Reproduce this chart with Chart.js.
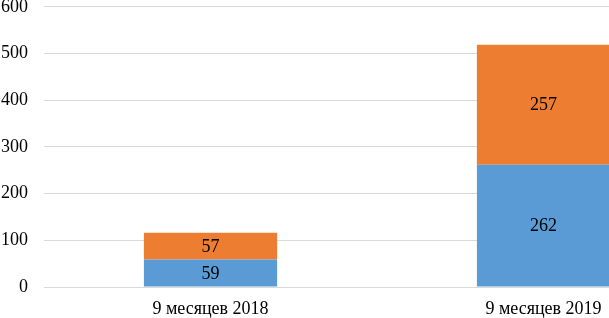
<!DOCTYPE html>
<html>
<head>
<meta charset="utf-8">
<script src="https://cdn.jsdelivr.net/npm/chart.js@4"></script>
<style>
  html, body { margin: 0; padding: 0; background: #fff; }
  #wrap { width: 609px; height: 318px; overflow: hidden; position: relative; }
  #box { width: 710px; height: 338px; position: absolute; left: 0; top: -20px; }
</style>
</head>
<body>
<div id="wrap"><div id="box"><canvas id="chart"></canvas></div></div>
<script>
// ─── DATA ─────────────────────────────────────────────
const categories = ['9 месяцев 2018', '9 месяцев 2019'];
const seriesBlue   = [59, 262];
const seriesOrange = [57, 257];
const yTicks = [0, 100, 200, 300, 400, 500, 600];

const FONT = '"Liberation Serif", "Times New Roman", serif';

// values printed in the middle of each segment
const segLabels = {
    id: 'segLabels',
    afterDatasetsDraw(chart) {
        const ctx = chart.ctx;
        ctx.save();
        ctx.font = '18px ' + FONT;
        ctx.fillStyle = '#000';
        ctx.textAlign = 'center';
        ctx.textBaseline = 'middle';
        chart.data.datasets.forEach((ds, di) => {
            chart.getDatasetMeta(di).data.forEach((bar, i) => {
                const mid = (bar.y + bar.base) / 2;
                ctx.fillText(ds.data[i], bar.x, mid + 1);
            });
        });
        ctx.restore();
    }
};

new Chart(document.getElementById('chart'), {
    type: 'bar',
    data: {
        labels: categories,
        datasets: [
            { label: 'A', data: seriesBlue,   backgroundColor: '#5b9bd5' },
            { label: 'B', data: seriesOrange, backgroundColor: '#ed7d31' }
        ]
    },
    options: {
        responsive: true,
        maintainAspectRatio: false,
        animation: false,
        layout: { padding: { top: 6, right: 0, left: 0, bottom: 0 } },
        datasets: { bar: { categoryPercentage: 1, barPercentage: 0.4 } },
        plugins: { legend: { display: false }, tooltip: { enabled: false } },
        scales: {
            x: {
                stacked: true,
                grid: { display: false },
                border: { display: false },
                ticks: { color: '#000', font: { family: FONT, size: 18 }, padding: 3 },
                afterFit: s => { s.height = 31; }
            },
            y: {
                stacked: true,
                min: 0, max: 600,
                afterBuildTicks: s => { s.ticks = yTicks.map(v => ({ value: v })); },
                grid: { color: '#d9d9d9', lineWidth: 1, drawTicks: false },
                border: { display: false },
                ticks: { color: '#000', font: { family: FONT, size: 18 }, padding: 16 },
                afterFit: s => { s.width = 44; }
            }
        }
    },
    plugins: [segLabels]
});
</script>
</body>
</html>
